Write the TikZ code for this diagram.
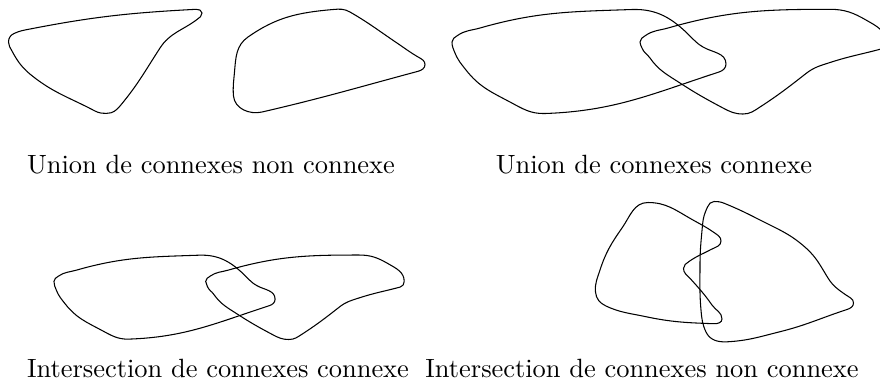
\documentclass[tikz,border=0pt]{standalone}
\begin{document}
\begin{tikzpicture}[x=0.0133cm,y=0.0133cm,
  blob/.style={draw,black,line width=0.4pt},
  lbl/.style={anchor=base,inner sep=0pt,font=\normalsize}]
\useasboundingbox (0,0) rectangle (880,-385);
\clip (0,0) rectangle (880,-385);
% ---------- Union de connexes non connexe ----------
\draw[blob] (8.5,-42) to[out=90,in=205] (14,-33.5) to[out=25,in=191] (30,-29)
 to[out=11,in=183] (196,-9.3)
 to[out=3,in=90] (202,-13) to[out=-90,in=37] (197,-19.5)
 to[out=-143,in=57] (160,-48) to[out=-123,in=50] (120,-106)
 to[out=-130,in=0] (107,-113.3) to[out=180,in=-28] (95,-111)
 to[out=152,in=-38] (33,-76.5) to[out=142,in=-62] (12,-51)
 to[out=118,in=-90] (8.5,-42) -- cycle;
\draw[blob] (234.5,-72) to[out=85,in=215] (248,-37) to[out=35,in=185] (333,-9.5)
 to[out=5,in=150] (350,-12) to[out=-30,in=146] (397,-43)
 to[out=-34,in=150] (419,-57.5) to[out=-30,in=90] (425,-64.5)
 to[out=-90,in=15] (418,-71.3) to[out=195,in=13] (262,-112)
 to[out=193,in=-85] (233.5,-96) to[out=95,in=-95] (234.5,-72) -- cycle;
% ---------- Union pair (reused, scaled, for the intersection) ----------
\newcommand\unionpair{%
 \draw[blob] (452,-42) to[out=90,in=215] (457.5,-35.5) to[out=35,in=196] (480,-28)
  to[out=16,in=182] (632,-9.5)
  to[out=2,in=135] (690,-36) to[out=-45,in=150] (703,-47)
  to[out=-30,in=90] (726,-64) to[out=-90,in=18] (719,-72)
  to[out=198,in=2] (545,-113.5) to[out=182,in=-28] (510,-102)
  to[out=152,in=-52] (466,-70) to[out=128,in=-68] (455,-53)
  to[out=112,in=-90] (452,-42) -- cycle;
 \draw[blob] (640,-42) to[out=90,in=215] (645.5,-35.5) to[out=35,in=196] (668,-28)
  to[out=16,in=180] (830,-9.3)
  to[out=0,in=150] (866,-20) to[out=-30,in=90] (886,-42)
  to[out=-90,in=15] (881,-49) to[out=195,in=18] (830,-62.5)
  to[out=198,in=38] (806,-73.5) to[out=218,in=33] (760,-107)
  to[out=213,in=0] (743,-114) to[out=180,in=-28] (723,-108)
  to[out=152,in=-33] (680,-83) to[out=147,in=-55] (650,-58)
  to[out=125,in=-70] (642,-48) to[out=110,in=-90] (640,-42) -- cycle;}
\unionpair
\begin{scope}[shift={(-310.8,-247.5)},scale=0.807]
 \unionpair
\end{scope}
% ---------- Intersection de connexes non connexe ----------
\draw[blob] (600,-270) to[out=72,in=235] (622,-228) to[out=55,in=180] (648,-202.5)
 to[out=0,in=150] (690,-218.3) to[out=-30,in=145] (714,-232.5)
 to[out=-35,in=90] (721,-241) to[out=-90,in=28] (711,-249.5)
 to[out=208,in=35] (689,-261.5) to[out=215,in=90] (683.5,-268.5)
 to[out=-90,in=132] (690,-278.3) to[out=-48,in=125] (712,-305)
 to[out=-55,in=90] (722,-319) to[out=-90,in=-2] (714,-323.7)
 to[out=178,in=-12] (645,-316.5) to[out=168,in=-25] (606,-306)
 to[out=155,in=-85] (595.5,-292) to[out=95,in=-108] (600,-270) -- cycle;
\draw[blob] (714,-201.5) to[out=0,in=158] (724,-203.2) to[out=-22,in=153] (760,-220)
 to[out=-27,in=138] (806,-248) to[out=-42,in=122] (828,-278)
 to[out=-58,in=145] (846,-295) to[out=-35,in=90] (853.5,-303)
 to[out=-90,in=18] (847,-309.5) to[out=198,in=14] (780,-331.7)
 to[out=194,in=3] (727,-341.8) to[out=183,in=-65] (706,-332)
 to[out=115,in=-85] (701,-310) to[out=95,in=-90] (700,-265)
 to[out=90,in=-95] (702.5,-225) to[out=85,in=-115] (707.5,-207)
 to[out=65,in=180] (714,-201.5) -- cycle;
% ---------- Labels ----------
\node[lbl] (l1) at (211,-173) {Union de connexes non connexe};
\node[lbl] (l2) at (654,-173) {Union de connexes connexe};
\node[lbl] (l3) at (218,-377) {Intersection de connexes connexe};
\node[lbl] (l4) at (642,-377) {Intersection de connexes non connexe};
\end{tikzpicture}
\end{document}
